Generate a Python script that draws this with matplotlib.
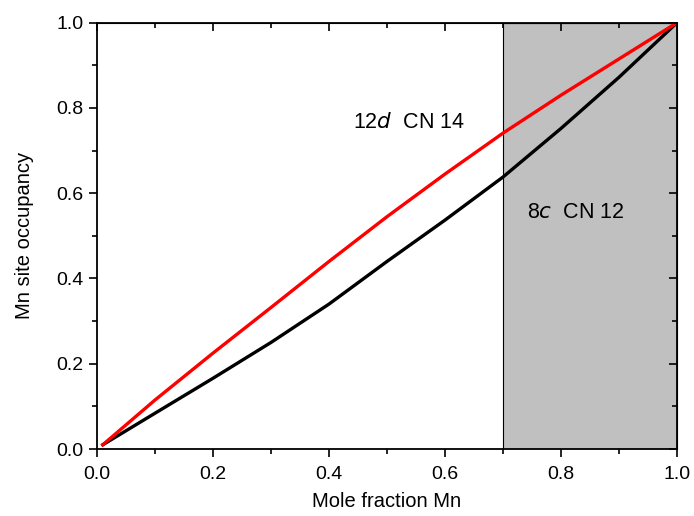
import matplotlib.pyplot as plt
from matplotlib.ticker import MultipleLocator

plt.rcParams['font.family'] = ['Liberation Sans', 'DejaVu Sans']

# mole fraction Mn vs site occupancy
x_mn = [0.01, 0.1, 0.2, 0.3, 0.4, 0.5, 0.6, 0.7, 0.8, 0.9, 1.0]
occ_12d = [0.01, 0.115, 0.225, 0.332, 0.44, 0.545, 0.645, 0.741, 0.83, 0.915, 1.0]
occ_8c = [0.01, 0.084, 0.166, 0.25, 0.34, 0.44, 0.537, 0.638, 0.752, 0.872, 1.0]
shade_range = (0.7, 1.0)

fig = plt.figure(figsize=(6.94, 5.16), dpi=100)
ax = fig.add_axes([0.1398, 0.1298, 0.8357, 0.8262])

ax.axvspan(shade_range[0], shade_range[1], facecolor='#c0c0c0', edgecolor='black', linewidth=0.8, zorder=0)
ax.plot(x_mn, occ_8c, color='black', linewidth=2.4)
ax.plot(x_mn, occ_12d, color='#ff0000', linewidth=2.4)

ax.text(0.441, 0.767, r'12$\it{d}$  CN 14', fontsize=15.5, va='center', ha='left')
ax.text(0.741, 0.554, r'8$\it{c}$  CN 12', fontsize=15.5, va='center', ha='left')

ax.set_xlim(0, 1)
ax.set_ylim(0, 1)
ax.xaxis.set_major_locator(MultipleLocator(0.2))
ax.xaxis.set_minor_locator(MultipleLocator(0.1))
ax.yaxis.set_major_locator(MultipleLocator(0.2))
ax.yaxis.set_minor_locator(MultipleLocator(0.1))
ax.xaxis.set_major_formatter(plt.FormatStrFormatter('%.1f'))
ax.yaxis.set_major_formatter(plt.FormatStrFormatter('%.1f'))

for s in ax.spines.values():
    s.set_linewidth(1.3)

ax.tick_params(which='both', direction='out', width=1.2, labelsize=14, top=False, right=False)
ax.tick_params(which='major', length=6)
ax.tick_params(which='minor', length=3.5)
ax.tick_params(axis='x', which='major', pad=6)

# inward ticks on top and right
axt = ax.secondary_xaxis('top')
axt.xaxis.set_major_locator(MultipleLocator(0.2))
axt.xaxis.set_minor_locator(MultipleLocator(0.1))
axt.tick_params(which='both', direction='in', width=1.2, labeltop=False)
axt.tick_params(which='major', length=6)
axt.tick_params(which='minor', length=3.5)
axr = ax.secondary_yaxis('right')
axr.yaxis.set_major_locator(MultipleLocator(0.2))
axr.yaxis.set_minor_locator(MultipleLocator(0.1))
axr.tick_params(which='both', direction='in', width=1.2, labelright=False)
axr.tick_params(which='major', length=6)
axr.tick_params(which='minor', length=3.5)

ax.set_xlabel('Mole fraction Mn', fontsize=14.5, labelpad=7)
ax.set_ylabel('Mn site occupancy', fontsize=14.5, labelpad=16)

fig.savefig('out.png', dpi=100)
